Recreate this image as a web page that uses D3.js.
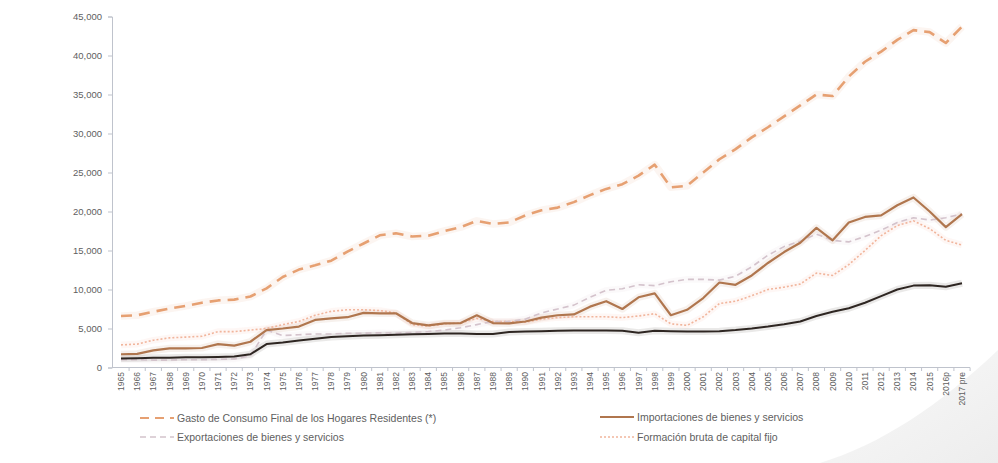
<!DOCTYPE html>
<html>
<head>
<meta charset="utf-8">
<script src="https://cdn.jsdelivr.net/npm/d3@7"></script>
<style>
  html, body { margin: 0; padding: 0; background: #ffffff; }
  svg { display: block; font-family: "Liberation Sans", Arial, sans-serif; }
</style>
</head>
<body>
<svg id="chart" width="998" height="463"></svg>
<script>
// Categories (years)
const years = ["1965","1966","1967","1968","1969","1970","1971","1972","1973","1974",
  "1975","1976","1977","1978","1979","1980","1981","1982","1983","1984",
  "1985","1986","1987","1988","1989","1990","1991","1992","1993","1994",
  "1995","1996","1997","1998","1999","2000","2001","2002","2003","2004",
  "2005","2006","2007","2008","2009","2010","2011","2012","2013","2014",
  "2015","2016p","2017 pre"];

// Series values
const consumoHogares = [6600,6700,7150,7550,7900,8300,8600,8700,9100,10150,
  11600,12550,13100,13700,14850,15900,16950,17200,16800,16900,
  17500,18000,18800,18400,18600,19500,20150,20500,21200,22100,
  22900,23500,24600,26000,23100,23300,25000,26700,28000,29500,
  30800,32200,33600,35000,34800,37300,39200,40500,42000,43250,
  43000,41600,43700];

const importaciones = [1700,1750,2200,2450,2450,2500,3000,2800,3300,4800,
  5000,5250,6100,6300,6450,7000,6950,6950,5700,5400,
  5650,5700,6700,5700,5650,5900,6400,6700,6800,7800,
  8500,7500,9000,9500,6700,7400,8900,10900,10600,11800,
  13400,14800,16000,17900,16300,18600,19300,19500,20800,21800,
  20000,18000,19650];

const exportaciones = [1000,1000,950,950,1000,1000,1050,1100,1500,4800,
  4100,4200,4300,4300,4400,4400,4450,4400,4500,4600,
  4800,5100,5500,5900,5900,6200,7000,7500,8000,9000,
  9900,10100,10600,10500,11000,11300,11300,11200,11700,12900,
  14400,15500,16200,17100,16300,16100,16800,17600,18600,19200,
  18900,19200,19700];

const formacionBruta = [2900,3000,3500,3800,3900,4000,4600,4600,4800,5000,
  5500,5900,6700,7200,7400,7400,7300,7000,5500,5300,
  5600,5700,6300,5900,5900,5800,6200,6400,6500,6500,
  6500,6400,6600,6900,5600,5400,6500,8200,8500,9200,
  10000,10300,10700,12100,11800,13200,15000,16900,18200,18800,
  17800,16300,15700];

const consumoGobierno = [1150,1200,1250,1250,1300,1300,1350,1400,1700,3000,
  3200,3450,3700,3900,4000,4100,4150,4200,4250,4300,
  4350,4350,4300,4300,4550,4600,4650,4700,4750,4750,
  4750,4700,4450,4700,4650,4600,4600,4650,4800,5000,
  5250,5550,5900,6600,7150,7600,8300,9150,10000,10500,
  10550,10350,10800];

// Y axis tick values
const yTicks = [0,5000,10000,15000,20000,25000,30000,35000,40000,45000];

// Legend entries (series drawn with a legend sample)
const legendLabels = [
  "Gasto de Consumo Final de los Hogares Residentes (*)",
  "Importaciones de bienes y servicios",
  "Exportaciones de bienes y servicios",
  "Formación bruta de capital fijo"
];

const svg = d3.select("#chart");

// Decorative grey sweep in the lower right corner
const defs = svg.append("defs");
const grad = defs.append("linearGradient").attr("id", "sweep")
  .attr("x1", "0").attr("y1", "0").attr("x2", "1").attr("y2", "1");
grad.append("stop").attr("offset", "0").attr("stop-color", "#fafafa");
grad.append("stop").attr("offset", "1").attr("stop-color", "#ededed");
svg.append("path")
  .attr("d", "M820,463 C880,445 940,405 998,350 L998,463 Z")
  .attr("fill", "url(#sweep)");

// Scales
const x = d3.scalePoint().domain(years).range([121, 962]);
const y = d3.scaleLinear().domain([0, 45000]).range([367.5, 16.5]);

// Y axis
const yAxis = d3.axisLeft(y).tickValues(yTicks).tickSize(4)
  .tickFormat(d3.format(","));
const gy = svg.append("g").attr("transform", "translate(112,0)").call(yAxis);
gy.select(".domain").attr("stroke", "#bfc3cc");
gy.selectAll(".tick line").attr("stroke", "#bfc3cc");
gy.selectAll(".tick text").attr("fill", "#606060").attr("font-size", "9.5px")
  .attr("x", -10);

// X axis (category axis with ticks between categories)
const step = x.step();
svg.append("line").attr("x1", 112).attr("x2", 970)
  .attr("y1", 367.5).attr("y2", 367.5).attr("stroke", "#bfc3cc");
svg.append("g").selectAll("line")
  .data(years)
  .join("line")
  .attr("x1", d => x(d) + step / 2).attr("x2", d => x(d) + step / 2)
  .attr("y1", 367.5).attr("y2", 371)
  .attr("stroke", "#bfc3cc");
svg.append("g").selectAll("text")
  .data(years)
  .join("text")
  .attr("transform", d => `translate(${x(d) + 3},372) rotate(-90)`)
  .attr("text-anchor", "end")
  .attr("font-size", "8.5px")
  .attr("fill", "#606060")
  .text(d => d);

// Series drawing
const line = d3.line().x((d, i) => x(years[i])).y(d => y(d));

const series = [
  { values: formacionBruta, color: "#f1b59c", width: 1.6, dash: "2,2" },
  { values: exportaciones, color: "#d4c3cc", width: 1.6, dash: "6,4" },
  { values: consumoGobierno, color: "#2e2622", width: 2, dash: null },
  { values: importaciones, color: "#b0764e", width: 2.2, dash: null },
  { values: consumoHogares, color: "#e6a072", width: 2.6, dash: "11,7" }
];

// soft halo under each line
svg.append("g").selectAll("path")
  .data(series)
  .join("path")
  .attr("d", d => line(d.values))
  .attr("fill", "none")
  .attr("stroke", d => d.color)
  .attr("stroke-opacity", 0.1)
  .attr("stroke-width", d => d.width + 5)
  .attr("stroke-linejoin", "round");

svg.append("g").selectAll("path")
  .data(series)
  .join("path")
  .attr("d", d => line(d.values))
  .attr("fill", "none")
  .attr("stroke", d => d.color)
  .attr("stroke-width", d => d.width)
  .attr("stroke-dasharray", d => d.dash)
  .attr("stroke-linejoin", "round");

// Legend
const legendStyle = [
  { color: "#e6a072", width: 2.2, dash: "9,6", x: 140, y: 418 },
  { color: "#b0764e", width: 2.2, dash: null, x: 600, y: 417 },
  { color: "#d4c3cc", width: 1.6, dash: "6,4", x: 140, y: 437 },
  { color: "#f1b59c", width: 1.6, dash: "2,2", x: 600, y: 437 }
];
const lg = svg.append("g").selectAll("g")
  .data(legendLabels)
  .join("g")
  .attr("transform", (d, i) => `translate(${legendStyle[i].x},${legendStyle[i].y})`);
lg.append("line")
  .attr("x1", 0).attr("x2", 34).attr("y1", 0).attr("y2", 0)
  .attr("stroke", (d, i) => legendStyle[i].color)
  .attr("stroke-width", (d, i) => legendStyle[i].width)
  .attr("stroke-dasharray", (d, i) => legendStyle[i].dash);
lg.append("text")
  .attr("x", 37).attr("y", 3.5)
  .attr("font-size", "10.5px")
  .attr("fill", "#606060")
  .text(d => d);
</script>
</body>
</html>
